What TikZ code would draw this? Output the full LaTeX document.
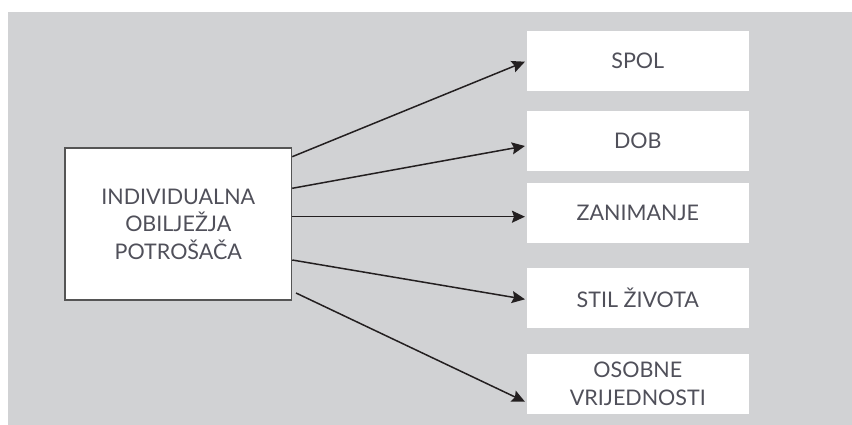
\documentclass[tikz,border=0pt]{standalone}
\usepackage{fontspec}
\setmainfont{Lato}
\usetikzlibrary{arrows.meta}
\definecolor{bg}{HTML}{D1D2D4}
\definecolor{txt}{HTML}{50505A}
\definecolor{frame}{HTML}{555555}
\definecolor{arrowc}{HTML}{231F20}
\tikzset{
  srcbox/.style={draw=frame, line width=1.2pt, fill=white, minimum width=226.7pt, minimum height=152pt, inner sep=0pt, align=center, text=txt, font=\fontsize{21.5}{27.5}\selectfont},
  itembox/.style={fill=white, minimum width=222.3pt, minimum height=60.5pt, inner sep=0pt, align=center, text=txt, font=\fontsize{21.5}{28.5}\selectfont},
  arr/.style={draw=arrowc, line width=1.5pt, -{Stealth[length=13pt,width=12pt,inset=2pt]}}
}
\begin{document}
\begin{tikzpicture}[x=1pt,y=-1pt]
\useasboundingbox (0,0) rectangle (852,425);
\fill[bg] (8,12) rectangle (852,425);
\node[srcbox] (src) at (178.3,224) {INDIVIDUALNA\\OBILJEŽJA\\POTROŠAČA};
\node[itembox] (s1) at (637.8,60.8) {SPOL};
\node[itembox] (s2) at (637.8,140.8) {DOB};
\node[itembox] (s3) at (637.8,213) {ZANIMANJE};
\node[itembox] (s4) at (637.8,298) {STIL ŽIVOTA};
\node[itembox] (s5) at (637.8,384) {OSOBNE\\VRIJEDNOSTI};
\coordinate (p5) at (296,293);
\draw[arr] ([yshift=67.3pt]src.east) -- ([yshift=-0.9pt,xshift=-1.5pt]s1.west);
\draw[arr] ([yshift=35.7pt]src.east) -- ([yshift=-5.2pt,xshift=-1.5pt]s2.west);
\draw[arr] ([yshift=7.3pt]src.east) -- ([yshift=-3.7pt,xshift=-1.5pt]s3.west);
\draw[arr] ([yshift=-36pt]src.east) -- ([yshift=-1.3pt,xshift=-1.5pt]s4.west);
\draw[arr] (p5) -- ([yshift=-17.7pt,xshift=-1.5pt]s5.west);
\end{tikzpicture}
\end{document}
